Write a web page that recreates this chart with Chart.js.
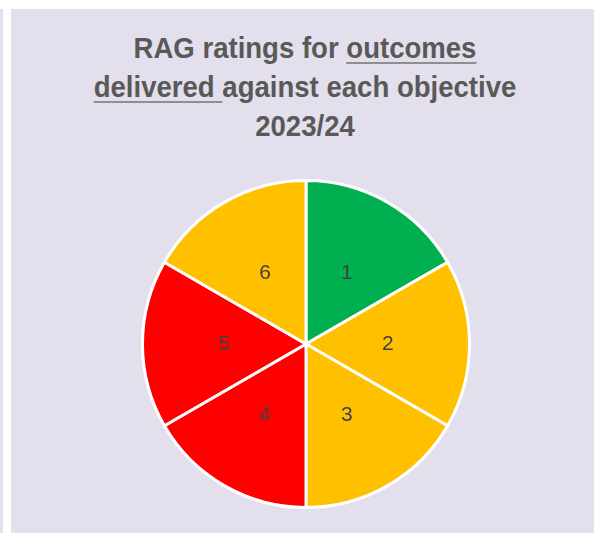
<!DOCTYPE html>
<html>
<head>
<meta charset="utf-8">
<script src="https://cdn.jsdelivr.net/npm/chart.js@4.4.1/dist/chart.umd.min.js"></script>
<style>
  html, body {
    margin: 0;
    padding: 0;
    width: 594px;
    height: 533px;
    overflow: hidden;
    background: #ffffff;
  }
  #panel {
    position: absolute;
    left: 11px;
    top: 9px;
    width: 583px;
    height: 524px;
    background: #e4dfec;
  }
  #edge {
    position: absolute;
    left: 0;
    top: 9px;
    width: 3px;
    height: 524px;
    background: #e4dfec;
  }
  #title {
    position: absolute;
    left: 0;
    width: 610px;
    top: 29px;
    text-align: center;
    font-family: "Liberation Sans", Arial, sans-serif;
    font-weight: bold;
    font-size: 29px;
    line-height: 39px;
    color: #595959;
    transform: scaleX(0.95);
    transform-origin: 305px 0;
  }
  #title u {
    text-decoration-color: #8f8f8f;
    text-decoration-thickness: 2px;
    text-underline-offset: 4px;
  }
  #chart-box {
    position: absolute;
    left: 141px;
    top: 179px;
    width: 330px;
    height: 330px;
  }
</style>
</head>
<body>
<div id="edge"></div>
<div id="panel"></div>
<div id="title">RAG ratings for <u>outcomes</u><br><u>delivered </u>against each objective<br>2023/24</div>
<div id="chart-box"><canvas id="ragChart"></canvas></div>
<script>
// 每个目标一个扇区，等分
const objectives = ["1", "2", "3", "4", "5", "6"];
const shares = [1, 1, 1, 1, 1, 1];
const ragColors = ["#00b050", "#ffc000", "#ffc000", "#ff0000", "#ff0000", "#ffc000"];

// 在扇区中部写编号
const sliceNumbers = {
  id: "sliceNumbers",
  afterDatasetsDraw(chart) {
    const ctx = chart.ctx;
    const meta = chart.getDatasetMeta(0);
    ctx.save();
    ctx.fillStyle = "#404040";
    ctx.font = "21px 'Liberation Sans', Arial, sans-serif";
    ctx.textAlign = "center";
    ctx.textBaseline = "middle";
    meta.data.forEach((arc, i) => {
      const pos = arc.tooltipPosition();
      ctx.fillText(chart.data.labels[i], pos.x, pos.y);
    });
    ctx.restore();
  },
};

const ctx = document.getElementById("ragChart").getContext("2d");

new Chart(ctx, {
  type: "pie",
  data: {
    labels: objectives,
    datasets: [
      {
        data: shares,
        backgroundColor: ragColors,
        borderColor: "#ffffff",
        borderWidth: 3,
      },
    ],
  },
  options: {
    responsive: true,
    maintainAspectRatio: false,
    animation: false,
    layout: {
      padding: 0,
    },
    plugins: {
      legend: { display: false },
      tooltip: { enabled: false },
      title: { display: false },
    },
  },
  plugins: [sliceNumbers],
});
</script>
</body>
</html>
